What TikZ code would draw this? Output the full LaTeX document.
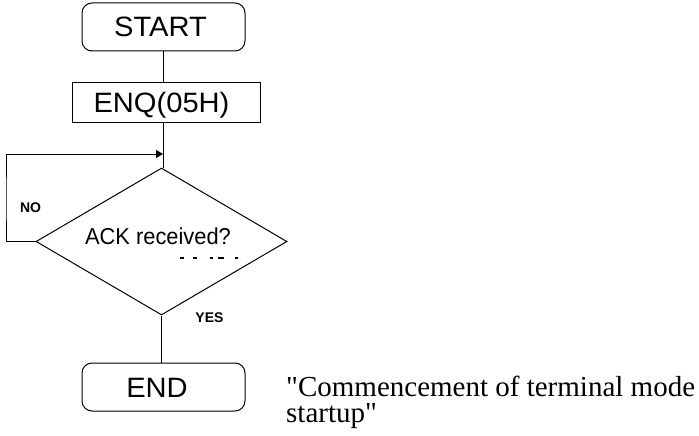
\documentclass[tikz,border=0pt]{standalone}
\usepackage{fontspec}
\usepackage{graphicx}
\setmainfont{Liberation Serif}
\newfontfamily\notefont{Liberation Serif}[Ligatures=TeXOff]
\newfontfamily\arialf{Liberation Sans}
\usetikzlibrary{shapes.geometric,arrows.meta}
\tikzset{
  boxfont/.style={font=\arialf\fontsize{28}{30}\selectfont},
  termbox/.style={draw, line width=1pt, rounded corners=10pt, minimum width=163pt, minimum height=48pt, inner sep=0pt, text height=20pt, text depth=0pt, boxfont},
  procbox/.style={draw, line width=1pt, minimum width=188pt, minimum height=39pt, inner sep=0pt, text height=20pt, text depth=0pt, boxfont},
  decision/.style={draw, line width=1pt, diamond, aspect=1.7, minimum width=251pt, minimum height=147pt, inner sep=0pt, text height=5pt, text depth=0pt, font=\arialf\fontsize{23}{25}\selectfont},
  flaglabel/.style={inner sep=0pt, font=\arialf\bfseries\fontsize{14}{16}\selectfont},
  conn/.style={line width=1pt},
  flow/.style={line width=1pt, -{Triangle[length=7pt,width=8pt]}},
  note/.style={inner sep=0pt, anchor=base west, align=left, font=\notefont\fontsize{29}{26}\selectfont}
}
\begin{document}
\begin{tikzpicture}[x=1pt,y=-1pt]
\useasboundingbox (0,0) rectangle (699,436);
\node[termbox] (start) at (163.5,27) {\hspace*{-6pt}\scalebox{1.04}[1]{START}};
\node[procbox] (enq) at (166,102.5) {\hspace*{-9pt}\scalebox{1.04}[1]{ENQ(05H)}};
\node[decision] (dec) at (161.5,241.5) {\hspace*{-7pt}\scalebox{0.95}[1]{ACK received?}};
\node[termbox] (endbox) at (163.5,387) {\hspace*{-13pt}\scalebox{1.04}[1]{END}};
\node[flaglabel] (no) at (30.5,208) {NO};
\node[flaglabel] (yes) at (209.5,318) {YES};
\node[note] (remark) at (286,422) {"Commencement of terminal mode\\startup"};
\coordinate (merge) at (163,154);
\coordinate (loopleft) at (6,200);
\draw[conn] (start.south -| merge) -- (merge |- enq.north);
\draw[conn] (enq.south -| merge) -- (merge |- dec.north);
\draw[flow] (dec.west) -| (loopleft) |- (merge);
\draw[conn] (dec.south) -- (dec.south |- endbox.north);
% small dash fragments under the decision text
\draw[line width=1.1pt] (180,258) -- (184,258) (193,258) -- (197,258) (210,258) -- (213,258) (218,258) -- (224,258) (235,258) -- (238,258);
\end{tikzpicture}
\end{document}
